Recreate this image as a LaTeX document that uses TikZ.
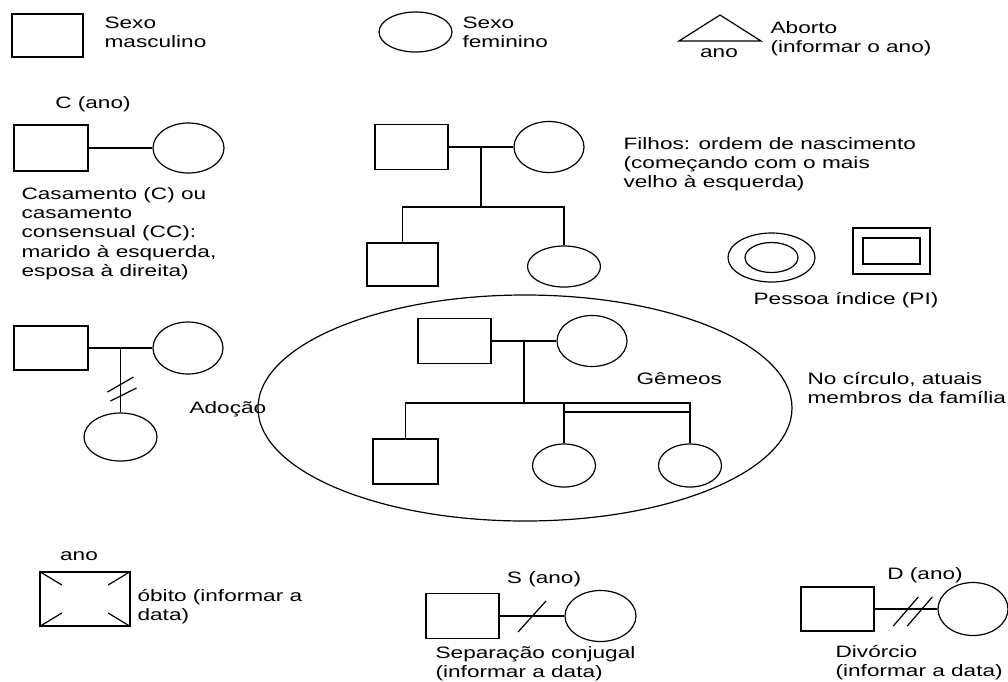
\documentclass[tikz,border=0pt]{standalone}
\usepackage{fontspec}
\setmainfont{Liberation Sans}[FakeStretch=1.37]
\usetikzlibrary{shapes.geometric}
\tikzset{
	masc/.style={draw, rectangle, minimum width=73pt, minimum height=45pt, inner sep=0pt},
	fem/.style={draw, ellipse, minimum width=71pt, minimum height=50pt, inner sep=0pt},
	lbl/.style={inner sep=0pt, align=left, font=\fontsize{16.5}{19.2}\selectfont},
}
\begin{document}
\begin{tikzpicture}[x=1pt, y=-1pt, line width=1.2pt]
	\useasboundingbox (0,0) rectangle (1008,681);
	\node[masc, minimum width=71pt, minimum height=43pt] (sm) at (47.5,35.5) {};
	\node[lbl, anchor=north west] (tsm) at (104,16) {Sexo\\masculino};
	\node[fem, minimum width=73pt, minimum height=40pt] (sf) at (415.5,32) {};
	\node[lbl, anchor=north west] (tsf) at (462,16) {Sexo\\feminino};
	\draw (679,41) -- (720,15) -- (761,41) -- cycle;
	\node[lbl, anchor=base] (tab) at (719,57) {ano};
	\node[lbl, anchor=north west] (tabt) at (770,21) {Aborto\\(informar o ano)};

	\node[masc, minimum width=74pt, minimum height=46pt] (cm) at (51,148) {};
	\node[fem] (cf) at (188.5,148) {};
	\draw (cm) -- (cf);
	\node[lbl, anchor=base] (tc) at (93,108) {C (ano)};
	\node[lbl, anchor=north west] (tct) at (21,187) {Casamento (C) ou\\casamento\\consensual (CC):\\marido à esquerda,\\esposa à direita)};

	\node[masc] (fm) at (411.5,147) {};
	\node[fem, minimum width=70pt, minimum height=51pt] (ff) at (549,147) {};
	\draw (fm) -- coordinate (fk) (ff);
	\draw (fk) -- ++(0,60) coordinate (fs);
	\node[masc, minimum width=71pt, minimum height=43pt] (fc1) at (402.5,264.5) {};
	\node[fem, minimum width=73pt, minimum height=41pt] (fc2) at (564,266.5) {};
	\draw (fc1.north) |- (fs) -| (fc2.north);
	\node[lbl, anchor=north west] (tf) at (623,137) {Filhos: ordem de nascimento\\(começando com o mais\\velho à esquerda)};

	\node[fem, minimum width=87pt, minimum height=49pt] (pc) at (771.5,257.5) {};
	\node[fem, minimum width=53pt, minimum height=30pt] (pci) at (pc) {};
	\node[masc, minimum width=77pt, minimum height=46pt] (pq) at (891.5,251) {};
	\node[masc, minimum width=57pt, minimum height=26pt] (pqi) at (pq) {};
	\node[lbl, anchor=base] (tp) at (846,304) {Pessoa índice (PI)};

	\node[masc, minimum width=74pt, minimum height=44pt] (am) at (51,348) {};
	\node[fem, minimum width=70pt, minimum height=52pt] (af) at (188,348) {};
	\node[fem, minimum width=73pt, minimum height=48pt] (ac) at (120.5,437) {};
	\draw (am) -- coordinate (ak) (af);
	\draw (ak) -- (ac.north);
	\draw (ak) ++(-13,44) -- ++(26,-15);
	\draw (ak) ++(-10,53) -- ++(26,-13);
	\node[lbl, anchor=base west] (ta) at (189,413) {Adoção};

	\node[draw, ellipse, minimum width=534pt, minimum height=226pt, inner sep=0pt] (circ) at (525,408) {};
	\node[masc] (gm) at (454.5,341) {};
	\node[fem, minimum width=70pt, minimum height=51pt] (gf) at (592,341) {};
	\draw (gm) -- coordinate (gk) (gf);
	\draw (gk) -- ++(0,62) coordinate (gs);
	\node[masc, minimum width=65pt] (gc) at (405.5,461.5) {};
	\node[fem, minimum width=63pt, minimum height=43pt] (gt1) at (564,465.5) {};
	\node[fem, minimum width=63pt, minimum height=43pt] (gt2) at (690,465.5) {};
	\draw (gc.north) |- (gs) -| (gt2.north);
	\draw (gt1.north) -- (gt1.north |- gs);
	\path (gs) ++(0,9) coordinate (gb);
	\draw (gt1.north |- gb) -- (gt2.north |- gb);
	\node[lbl, anchor=base west] (tg) at (636,384) {Gêmeos};
	\node[lbl, anchor=north west] (tcirc) at (807,372) {No círculo, atuais\\membros da família};

	\node[masc, minimum width=90pt, minimum height=54pt] (ob) at (85,599) {};
	\foreach \c in {north west, north east, south west, south east}
		\draw[shorten >=27pt] (ob.\c) -- (ob.center);
	\node[lbl, anchor=base] (tob) at (79,560) {ano};
	\node[lbl, anchor=north west] (tobt) at (137,589) {óbito (informar a\\data)};

	\node[masc] (spm) at (462.5,616) {};
	\node[fem, minimum width=71pt, minimum height=51pt] (spf) at (600.5,616) {};
	\draw (spm) -- coordinate (spk) (spf);
	\draw (spk) ++(-14,16) -- ++(28,-31);
	\node[lbl, anchor=base] (ts) at (544,583) {S (ano)};
	\node[lbl, anchor=north west] (tst) at (435,646) {Separação conjugal\\(informar a data)};

	\node[masc, minimum height=44pt] (dvm) at (837.5,609) {};
	\node[fem, minimum width=70pt, minimum height=53pt] (dvf) at (973,609) {};
	\draw (dvm) -- coordinate[pos=.6] (dvk) (dvf);
	\draw (dvk) ++(-19,17) -- ++(25,-29);
	\draw (dvk) ++(-5,17) -- ++(25,-29);
	\node[lbl, anchor=base] (td) at (925,579) {D (ano)};
	\node[lbl, anchor=north west] (tdt) at (835,645) {Divórcio\\(informar a data)};
\end{tikzpicture}
\end{document}
